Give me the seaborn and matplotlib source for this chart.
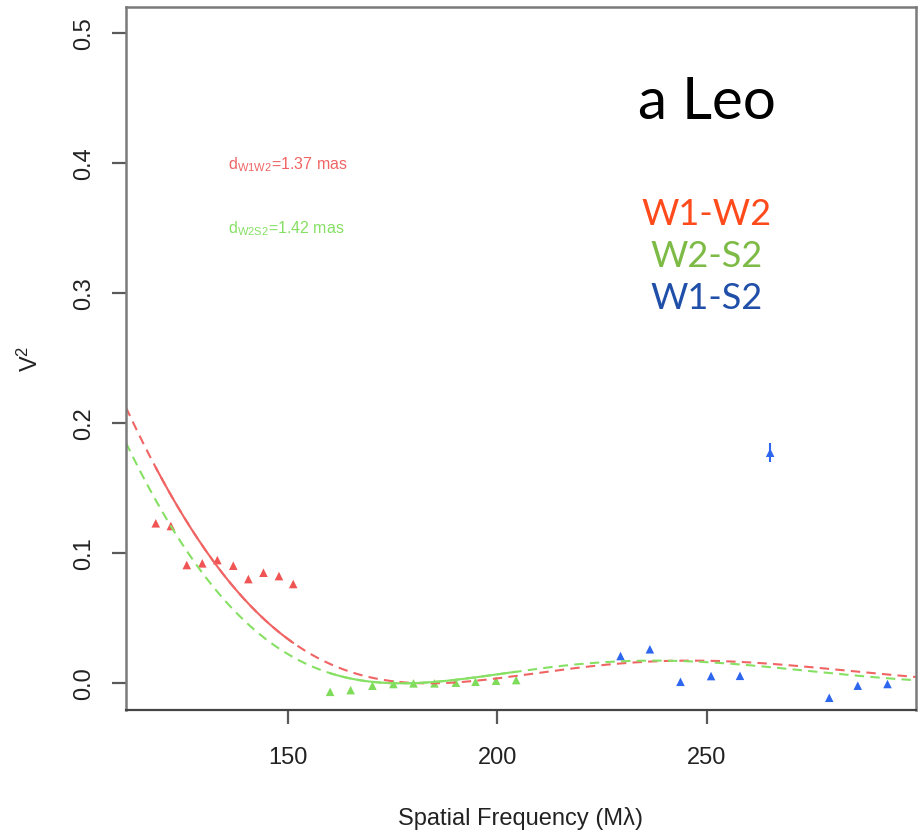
import numpy as np
import pandas as pd
import matplotlib
matplotlib.use("Agg")
import matplotlib.pyplot as plt
import seaborn as sns

# Squared visibilities per baseline (spatial frequency in Mlambda)
sf_w1w2 = [118.5, 122.1, 125.9, 129.6, 133.2, 137.0, 140.6, 144.2, 147.9, 151.3]
v2_w1w2 = [0.1231, 0.1210, 0.0910, 0.0923, 0.0948, 0.0905, 0.0802, 0.0851, 0.0825, 0.0764]

sf_w2s2 = [160.1, 165.0, 170.2, 175.2, 180.0, 185.0, 190.1, 194.8, 199.7, 204.5]
v2_w2s2 = [-0.0065, -0.0052, -0.0018, -0.0005, 0.0, 0.0, 0.0005, 0.0012, 0.0020, 0.0025]

sf_w1s2 = [229.4, 236.4, 243.7, 251.0, 257.9, 265.1, 279.2, 286.0, 293.1]
v2_w1s2 = [0.0210, 0.0262, 0.0012, 0.0056, 0.0058, 0.1774, -0.0111, -0.0018, -0.0005]
err_w1s2 = [0.0, 0.0, 0.0, 0.0, 0.0, 0.0073, 0.0, 0.0, 0.0]

# Uniform-disk diameters (mas)
diam_w1w2 = 1.37
diam_w2s2 = 1.42

baselines = ["W1-W2", "W2-S2", "W1-S2"]
point_colors = {"W1-W2": "#f05454", "W2-S2": "#7fdc5a", "W1-S2": "#2f66ee"}
curve_colors = {"W1-W2": "#f06464", "W2-S2": "#86e064"}
label_colors = {"W1-W2": "#ff4a1c", "W2-S2": "#7dbb46", "W1-S2": "#1f4fa8"}

x_ticks = [150, 200, 250]
y_ticks = [0.0, 0.1, 0.2, 0.3, 0.4, 0.5]


def bessel_j1(x):
    tau = np.linspace(0.0, np.pi, 1201)
    integrand = np.cos(tau[None, :] - x[:, None] * np.sin(tau[None, :]))
    return np.trapezoid(integrand, tau, axis=1) / np.pi


def uniform_disk_v2(sf_mlambda, diam_mas):
    theta = diam_mas * np.pi / 180.0 / 3600.0 / 1000.0
    x = np.pi * theta * np.asarray(sf_mlambda) * 1e6
    return (2.0 * bessel_j1(x) / x) ** 2


points = pd.DataFrame({
    "sf": sf_w1w2 + sf_w2s2 + sf_w1s2,
    "v2": v2_w1w2 + v2_w2s2 + v2_w1s2,
    "baseline": ["W1-W2"] * len(sf_w1w2) + ["W2-S2"] * len(sf_w2s2) + ["W1-S2"] * len(sf_w1s2),
})

xmin, xmax = 111.4, 299.9
sf_full = np.linspace(xmin, xmax, 600)

curves = []
for name, diam, sfs in [("W1-W2", diam_w1w2, sf_w1w2), ("W2-S2", diam_w2s2, sf_w2s2)]:
    curves.append(pd.DataFrame({"sf": sf_full, "v2": uniform_disk_v2(sf_full, diam),
                                "baseline": name, "part": "model"}))
    sf_fit = np.linspace(min(sfs), max(sfs), 200)
    curves.append(pd.DataFrame({"sf": sf_fit, "v2": uniform_disk_v2(sf_fit, diam),
                                "baseline": name, "part": "fit"}))
curves = pd.concat(curves, ignore_index=True)

sns.set_theme(style="white")
plt.rcParams["font.family"] = ["Liberation Sans", "DejaVu Sans"]
plt.rcParams["mathtext.fontset"] = "custom"
plt.rcParams["mathtext.rm"] = "Liberation Sans"
plt.rcParams["mathtext.it"] = "Liberation Sans"

fig = plt.figure(figsize=(9.19, 8.34), dpi=100)
ax = fig.add_axes([126 / 919, 1 - 710 / 834, 790 / 919, (710 - 7.3) / 834])

for name in ["W1-W2", "W2-S2"]:
    sub = curves[(curves.baseline == name) & (curves.part == "model")]
    sns.lineplot(data=sub, x="sf", y="v2", ax=ax, color=curve_colors[name],
                 lw=1.5, dashes=False, estimator=None, sort=False,
                 linestyle=(0, (4.5, 3)))
    sub = curves[(curves.baseline == name) & (curves.part == "fit")]
    sns.lineplot(data=sub, x="sf", y="v2", ax=ax, color=curve_colors[name],
                 lw=1.5, estimator=None, sort=False)

ax.errorbar(sf_w1s2, v2_w1s2, yerr=err_w1s2, fmt="none",
            ecolor=point_colors["W1-S2"], elinewidth=1.5, capsize=0)

sns.scatterplot(data=points, x="sf", y="v2", hue="baseline", hue_order=baselines,
                palette=point_colors, marker="^", s=38, linewidth=0,
                ax=ax, legend=False)

ax.set_xlim(xmin, xmax)
ax.set_ylim(-0.0205, 0.52)
ax.set_xticks(x_ticks)
ax.set_yticks(y_ticks)
ax.set_yticklabels([f"{v:.1f}" for v in y_ticks])

ax.tick_params(axis="both", which="major", bottom=True, left=True,
               direction="out", length=10, width=1.6,
               colors="#5a5a5a", labelcolor="#222222", labelsize=17)
ax.tick_params(axis="x", pad=17)
ax.tick_params(axis="y", pad=12)
for lab in ax.get_yticklabels():
    lab.set_rotation(90)
    lab.set_va("center")

for side in ["left", "top", "right"]:
    ax.spines[side].set_visible(True)
    ax.spines[side].set_color("#7a7a7a")
    ax.spines[side].set_linewidth(1.8)
ax.spines["bottom"].set_visible(True)
ax.spines["bottom"].set_color("#444444")
ax.spines["bottom"].set_linewidth(1.6)

ax.set_xlabel("Spatial Frequency (M\u03bb)", fontsize=17, color="#222222", labelpad=27)
ax.set_ylabel("V$^2$", fontsize=17, color="#222222", labelpad=22)

ax.text(135.8, 0.3987, r"d$_{\mathrm{W1W2}}$=1.37 mas", color="#f06464",
        fontsize=11.5, ha="left", va="center")
ax.text(135.8, 0.350, r"d$_{\mathrm{W2S2}}$=1.42 mas", color="#86e064",
        fontsize=11.5, ha="left", va="center")

ax.text(250.0, 0.4464, "a Leo", color="black", fontsize=42, family="Lato",
        ha="center", va="center")
for name, y in zip(baselines, [0.361, 0.328, 0.296]):
    ax.text(250.0, y, name, color=label_colors[name], fontsize=26, family="Lato",
            ha="center", va="center")

fig.savefig("out.png", dpi=100)
